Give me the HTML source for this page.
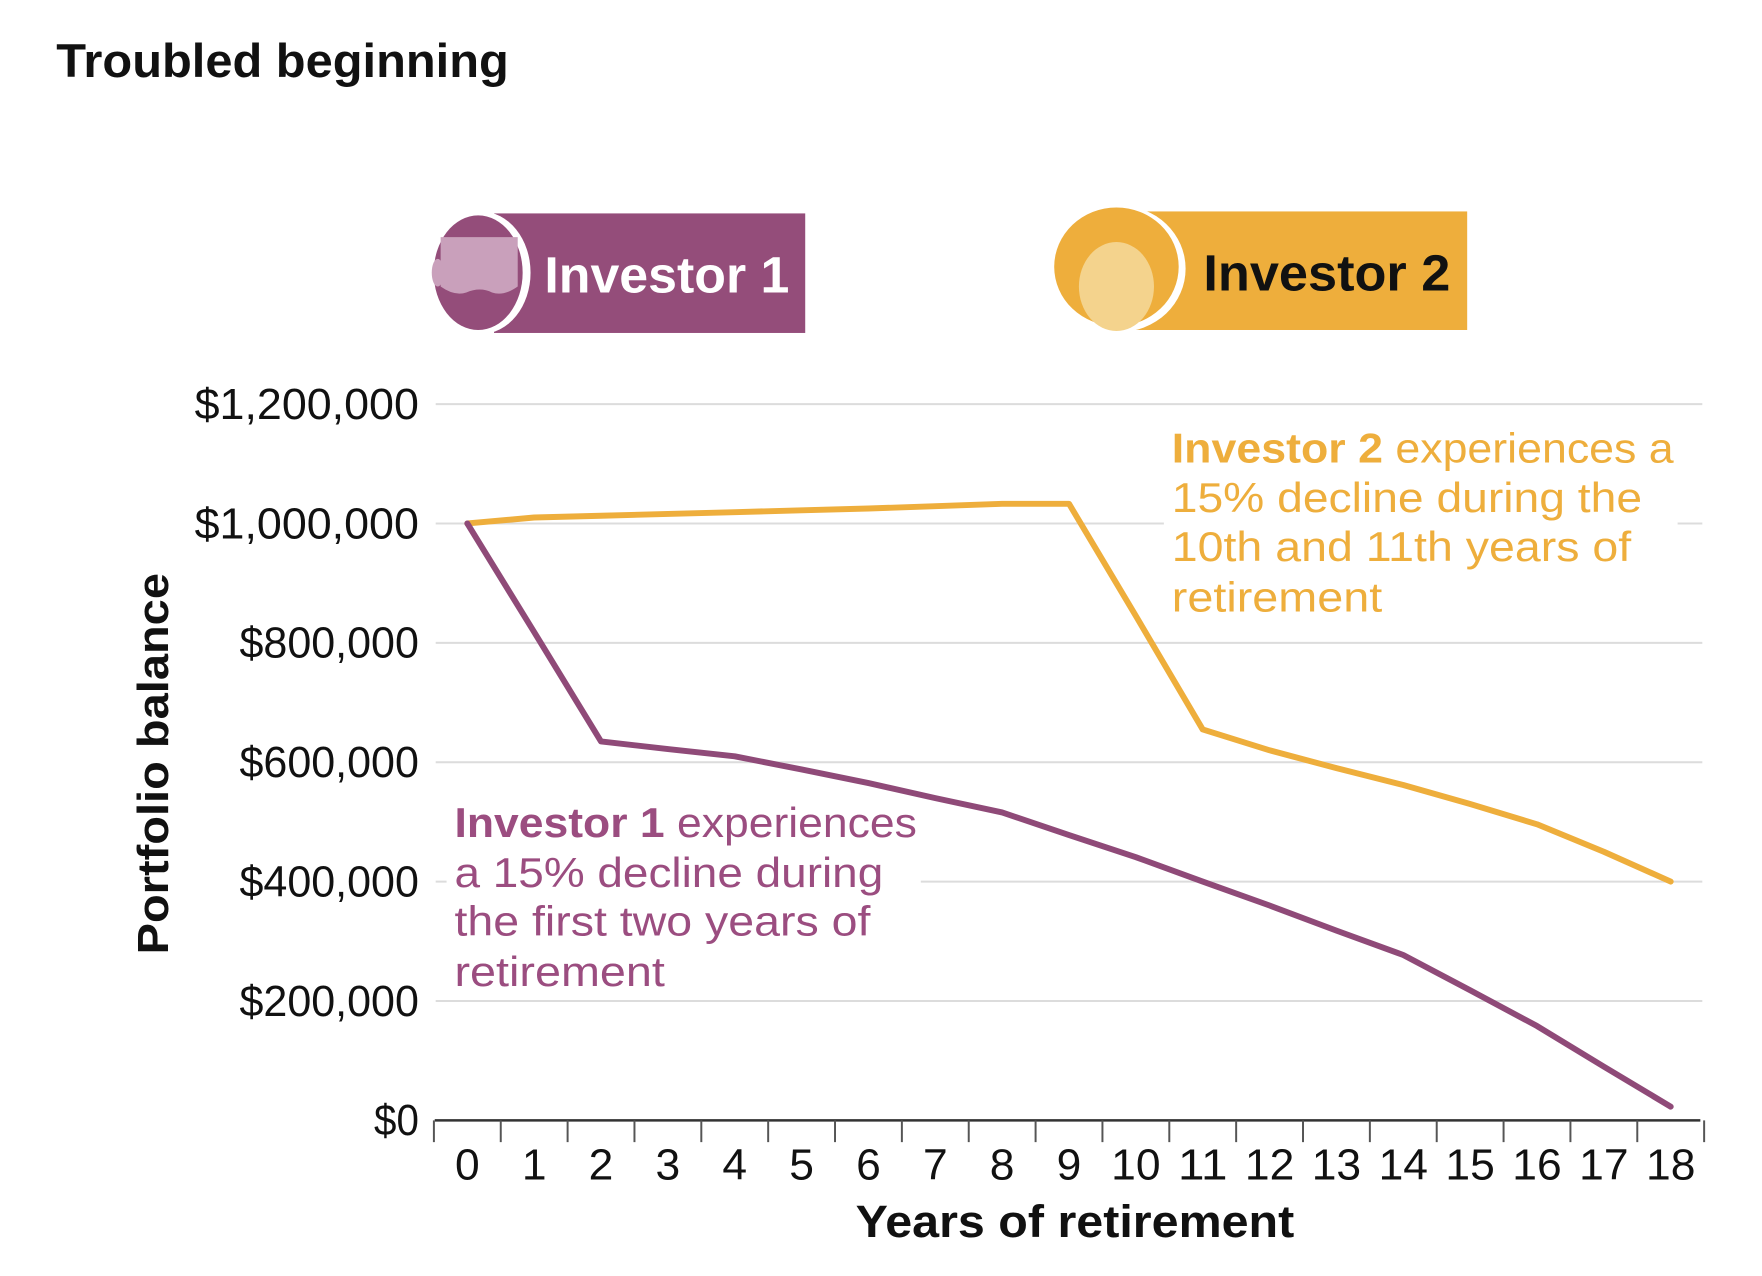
<!DOCTYPE html>
<html><head><meta charset="utf-8"><style>
html,body{margin:0;padding:0;background:#fff;}
svg{display:block;font-family:"Liberation Sans",sans-serif;}
</style></head><body>
<svg id="chart" width="1762" height="1276" viewBox="0 0 1762 1276">
<g transform="scale(0.988)">
<text x="57" y="78" font-size="48" font-weight="bold" fill="#111" textLength="458" lengthAdjust="spacingAndGlyphs">Troubled beginning</text>

<g>
<rect x="500" y="216" width="315" height="121" fill="#944d7a"/>
<ellipse cx="487" cy="276" rx="50" ry="62" fill="#fff"/>
<ellipse cx="484" cy="276" rx="45" ry="58" fill="#944d7a"/>
<path d="M446 240 L524 240 L524 290 Q510 300 498 296 Q486 290 472 296 Q460 300 446 290 Z" fill="#c9a0bb"/>
<ellipse cx="443" cy="276" rx="6" ry="14" fill="#c9a0bb"/>
<text x="551" y="296" font-size="52" font-weight="bold" fill="#fff" textLength="248" lengthAdjust="spacingAndGlyphs">Investor 1</text>
</g>

<g>
<rect x="1140" y="214" width="345" height="120" fill="#eeae3c"/>
<ellipse cx="1133" cy="272" rx="67" ry="64" fill="#fff"/>
<ellipse cx="1130" cy="270" rx="63" ry="60" fill="#eeae3c"/>
<ellipse cx="1130" cy="290" rx="38" ry="45" fill="#f4d38d"/>
<text x="1218" y="294" font-size="52" font-weight="bold" fill="#111" textLength="250" lengthAdjust="spacingAndGlyphs">Investor 2</text>
</g>

<g id="grid"></g>
<g id="yaxis"></g>
<g id="xaxis"></g>

<g fill="#eeae3c" font-size="42">
<rect x="1178" y="432" width="520" height="200" fill="#fff"/>
<text x="1186" y="468" textLength="508" lengthAdjust="spacingAndGlyphs"><tspan font-weight="bold">Investor 2</tspan> experiences a</text>
<text x="1186" y="518" textLength="476" lengthAdjust="spacingAndGlyphs">15% decline during the</text>
<text x="1186" y="568" textLength="465" lengthAdjust="spacingAndGlyphs">10th and 11th years of</text>
<text x="1186" y="619" textLength="213" lengthAdjust="spacingAndGlyphs">retirement</text>
</g>
<g fill="#9b4d80" font-size="42">
<rect x="452" y="812" width="480" height="200" fill="#fff"/>
<text x="460" y="847" textLength="468" lengthAdjust="spacingAndGlyphs"><tspan font-weight="bold">Investor 1</tspan> experiences</text>
<text x="460" y="898" textLength="434" lengthAdjust="spacingAndGlyphs">a 15% decline during</text>
<text x="460" y="947" textLength="421" lengthAdjust="spacingAndGlyphs">the first two years of</text>
<text x="460" y="998" textLength="213" lengthAdjust="spacingAndGlyphs">retirement</text>
</g>

<g id="series"></g>

<text x="1088" y="1252" font-size="46" font-weight="bold" fill="#111" text-anchor="middle" textLength="444" lengthAdjust="spacingAndGlyphs">Years of retirement</text>
<text transform="translate(170,773) rotate(-90)" font-size="44" font-weight="bold" fill="#111" text-anchor="middle" textLength="386" lengthAdjust="spacingAndGlyphs">Portfolio balance</text>
</g>
</svg>
<script>
const years = [0,1,2,3,4,5,6,7,8,9,10,11,12,13,14,15,16,17,18];
const investor1 = [1000000,818000,635000,622000,610000,588000,565000,540000,516000,478000,441000,400000,360000,318000,277000,218000,158000,90000,23000];
const investor2 = [1000000,1010000,1013000,1016000,1019000,1022000,1025000,1029000,1033000,1033000,845000,655000,620000,590000,562000,530000,496000,450000,400000];
const yTicks = [0,200000,400000,600000,800000,1000000,1200000];
const yTickLabels = ["$0","$200,000","$400,000","$600,000","$800,000","$1,000,000","$1,200,000"];

const NS="http://www.w3.org/2000/svg";
function X(v){return 473+(v-0)*(1691-473)/18;}
function Y(v){return 1134-v*(1134-409)/1200000;}
function mk(tag,attrs,parent){const e=document.createElementNS(NS,tag);for(const k in attrs)e.setAttribute(k,attrs[k]);parent.appendChild(e);return e;}

const grid=document.getElementById('grid'), yaxis=document.getElementById('yaxis'), xaxis=document.getElementById('xaxis'), series=document.getElementById('series');
yTicks.forEach((t,i)=>{
  if(t>0){const l=mk('line',{x1:441,x2:1723,y1:Y(t),y2:Y(t),stroke:'#dcdcdc','stroke-width':2},grid);
  
  }
  const tx=mk('text',{x:424,y:Y(t)+15,'font-size':44,fill:'#111','text-anchor':'end',textLength:yTickLabels[i].length*22.7,lengthAdjust:'spacingAndGlyphs'},yaxis);
  tx.textContent=yTickLabels[i];
  
  
});
const ax=mk('line',{x1:440,x2:1721,y1:1134,y2:1134,stroke:'#333','stroke-width':2.5},xaxis);


for(let i=0;i<=years.length;i++){
  const xv=X(i-0.5);
  const tk=mk('line',{x1:xv,x2:xv,y1:1134,y2:1156,stroke:'#555','stroke-width':2},xaxis);
  
  
}
years.forEach(y=>{
  const s=String(y);
  const tx=mk('text',{x:X(y),y:1194,'font-size':44,fill:'#111','text-anchor':'middle',textLength:s.length*25,lengthAdjust:'spacingAndGlyphs'},xaxis);
  tx.textContent=s;
  
  
});
function line(data,color,name){
  const d=data.map((v,i)=>(i?'L':'M')+X(years[i]).toFixed(1)+' '+Y(v).toFixed(1)).join(' ');
  const p=mk('path',{d:d,fill:'none',stroke:color,'stroke-width':6,'stroke-linejoin':'round','stroke-linecap':'round'},series);
  
  
}
line(investor2,'#eeae3c','investor-2-line');
line(investor1,'#8f4a78','investor-1-line');
</script>
</body></html>
